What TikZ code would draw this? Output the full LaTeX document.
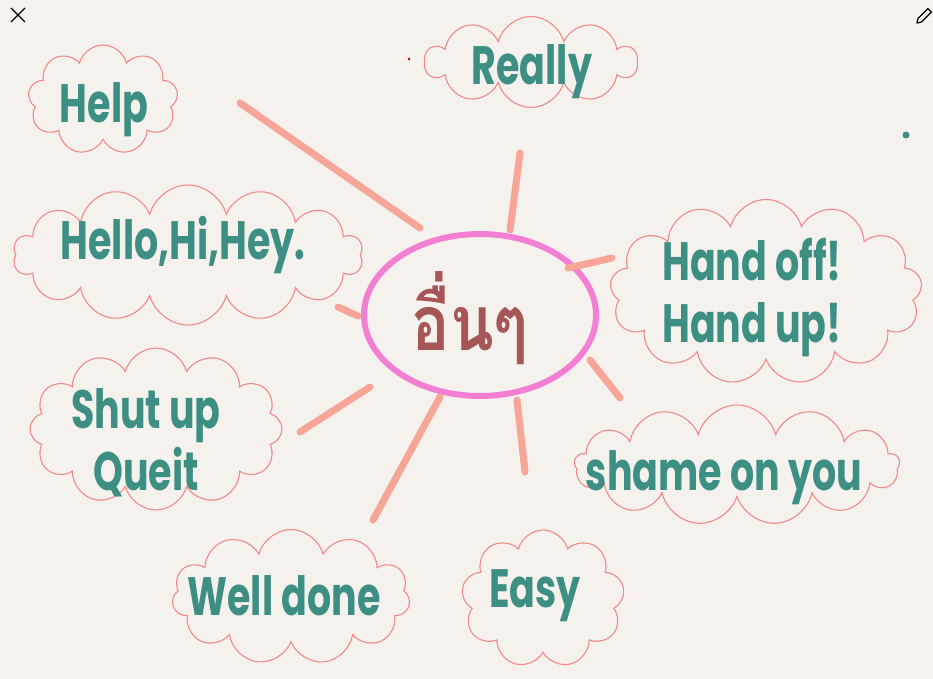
\documentclass[tikz,border=0pt]{standalone}
\usepackage{fontspec}
\setmainfont{Poppins}
\newfontfamily\thaifont[Script=Thai]{Loma}
\usetikzlibrary{shapes.symbols,shapes.geometric,calc}
\definecolor{bg}{HTML}{F5F2EE}
\definecolor{cloudc}{HTML}{F08A88}
\definecolor{txt}{HTML}{3E8F83}
\definecolor{spoke}{HTML}{F6A596}
\definecolor{ringc}{HTML}{F27FD2}
\definecolor{thaic}{HTML}{A65656}
\newcommand\tallword[1]{\scalebox{0.95}[1.35]{#1}}
\tikzset{
  bubble/.style={cloud, cloud puffs=#1, cloud ignores aspect, draw=cloudc, line width=1.1pt, aspect=2},
  word/.style={text=txt, font=\bfseries\fontsize{40}{62}\selectfont, align=center},
  spokeline/.style={draw=spoke, line width=7pt, line cap=round}
}
\begin{document}
\begin{tikzpicture}[x=1pt,y=-1pt]
\fill[bg] (0,0) rectangle (933,679);
\useasboundingbox (0,0) rectangle (933,679);
% clouds
\node[bubble=9, minimum width=150pt, minimum height=110pt] (help) at (103,100) {};
\node[bubble=10, minimum width=212pt, minimum height=91pt] (really) at (531,62) {};
\node[bubble=14, minimum width=350pt, minimum height=140pt] (hello) at (188,255) {};
\node[bubble=13, minimum width=312pt, minimum height=185pt] (hand) at (766,292) {};
\node[bubble=12, minimum width=252pt, minimum height=162pt] (shut) at (156,429) {};
\node[bubble=13, minimum width=325pt, minimum height=120pt] (shame) at (737,465) {};
\node[bubble=11, minimum width=238pt, minimum height=135pt] (well) at (291,597) {};
\node[bubble=9, minimum width=163pt, minimum height=138pt] (easy) at (543,599) {};
% texts
\node[word] (thelp) at (104,110) {\tallword{Help}};
\node[word] (treally) at (532,72) {\tallword{Really}};
\node[word] (thello) at (183,245) {\tallword{Hello,Hi,Hey.}};
\node[word] (thand) at (752,298) {\tallword{Hand off!}\\\tallword{Hand up!}};
\node[word] (tshut) at (146,443) {\tallword{Shut up}\\\tallword{Queit}};
\node[word] (tshame) at (724,478) {\tallword{shame on you}};
\node[word] (twell) at (284,596) {\tallword{Well done}};
\node[word] (teasy) at (535,596) {\tallword{Easy}};
% center
\node[draw=ringc, line width=6pt, ellipse, minimum width=232pt, minimum height=162pt] (ring) at (480,315) {};
\node[text=thaic, font=\thaifont\bfseries\fontsize{64}{70}\selectfont] (center) at (470,318) {\scalebox{1}[1.2]{อื่นๆ}};
% spoke end coordinates
\coordinate (a1) at (240,103); \coordinate (a2) at (420,228);
\coordinate (b1) at (520,153); \coordinate (b2) at (510,230);
\coordinate (c1) at (338,307); \coordinate (c2) at (358,316);
\coordinate (d1) at (612,258); \coordinate (d2) at (568,268);
\coordinate (e1) at (300,432); \coordinate (e2) at (370,387);
\coordinate (f1) at (620,398); \coordinate (f2) at (590,360);
\coordinate (g1) at (373,520); \coordinate (g2) at (440,397);
\coordinate (h1) at (525,472); \coordinate (h2) at (517,400);
\draw[spokeline] (a1) -- (a2);
\draw[spokeline] (b1) -- (b2);
\draw[spokeline] (c1) -- (c2);
\draw[spokeline] (d1) -- (d2);
\draw[spokeline] (e1) -- (e2);
\draw[spokeline] (f1) -- (f2);
\draw[spokeline] (g1) -- (g2);
\draw[spokeline] (h1) -- (h2);
% stray dots
\node[circle, fill=red!80!black, inner sep=0pt, minimum size=3pt] (dotr) at (409,59) {};
\node[circle, fill=txt, inner sep=0pt, minimum size=7pt] (dott) at (906,135) {};
% UI marks
\coordinate (x0) at (18,15);
\draw[line width=1.3pt] ($(x0)+(-7,-7)$) -- ($(x0)+(7,7)$) ($(x0)+(-7,7)$) -- ($(x0)+(7,-7)$);
\begin{scope}[shift={(924,16)}, rotate=45]
\coordinate (p0) at (0,0);
\draw[line width=1.2pt, line join=round] ($(p0)+(-6,-2.5)$) -- ($(p0)+(8,-2.5)$) -- ($(p0)+(8,2.5)$) -- ($(p0)+(-6,2.5)$) -- ($(p0)+(-10,0)$) -- cycle;
\end{scope}
\end{tikzpicture}
\end{document}
